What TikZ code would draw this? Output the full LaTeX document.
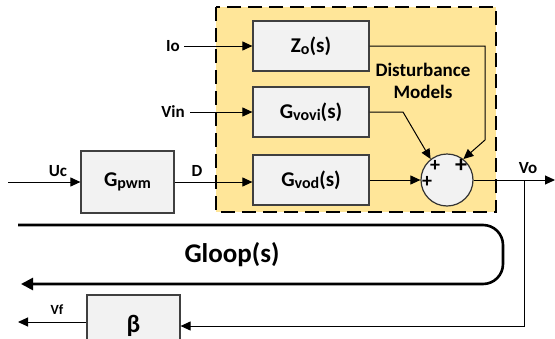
\documentclass[tikz,border=0pt]{standalone}
\usepackage{fontspec}
\setmainfont{Carlito}
\usetikzlibrary{arrows.meta}

\definecolor{boxgray}{RGB}{242,242,242}
\definecolor{distyellow}{RGB}{255,230,153}
\newcommand{\lowsub}[1]{\raisebox{-2pt}{\fontsize{16}{16}\selectfont #1}}

\begin{document}
\begin{tikzpicture}[x=1pt,y=-1pt,font=\bfseries,line width=1pt,
    blk/.style={draw=black!75,fill=boxgray,line width=1.2pt,minimum width=116pt,minimum height=50pt,font=\bfseries\fontsize{21}{21}\selectfont},
    sig/.style={line width=1pt,-{Triangle[length=10pt,width=9pt]}},
    lbl/.style={font=\bfseries\fontsize{17}{17}\selectfont},
    sign/.style={font=\bfseries\fontsize{20}{20}\selectfont,inner sep=0pt}]
                \useasboundingbox (0,0) rectangle (555,338);
                % disturbance area
                \draw[fill=distyellow,line width=2.6pt,dash pattern=on 14pt off 7pt] (216,7) rectangle (496,212);
                \node[align=center,font=\bfseries\fontsize{19}{22}\selectfont] (dist) at (423,81) {Disturbance\\Models};
                % blocks
                \node[blk] (zo) at (311,46) {Z\lowsub{o}(s)};
                \node[blk] (gvovi) at (311,112) {G\lowsub{vovi}(s)};
                \node[blk] (gvod) at (311,180) {G\lowsub{vod}(s)};
                \node[blk,minimum width=93pt,minimum height=62pt] (gpwm) at (127.5,182) {G\lowsub{pwm}};
                \node[blk,minimum width=93pt,minimum height=62pt,font=\bfseries\fontsize{25}{25}\selectfont] (beta) at (133.5,326) {β};
                \node[draw=black!80,fill=boxgray,circle,line width=1.2pt,minimum size=52pt,inner sep=0pt] (sum) at (447,180) {};
                % signs
                \node[sign] (p1) at (435,166) {+};
                \node[sign] (p2) at (427,182) {+};
                \node[sign,font=\bfseries\fontsize{24}{24}\selectfont] (p3) at (461,166) {+};
                % inputs
                \coordinate (ioin) at (184,46);
                \coordinate (vinin) at (190,112);
                \coordinate (ucin) at (8,182);
                \node[lbl] (io) at (173,46) {Io};
                \node[lbl] (vin) at (173,112) {Vin};
                \node[lbl] (uc) at (58,171) {Uc};
                \node[lbl] (d) at (197,171) {D};
                \draw[sig] (ioin) -- (zo.west);
                \draw[sig] (vinin) -- (vinin -| gvovi.west);
                \draw[sig] (ucin) -- (gpwm.west);
                \draw[sig] (gpwm.east) -- (gpwm.east -| gvod.west);
                \draw[sig] (gvod.east) -- (gvod.east -| sum.west);
                \draw[sig] (gvovi.east) -- (403,112) -- (sum.128);
                \draw[sig] (zo.east) -- (485,46) -- (485,140) -- (sum.52);
                % output and feedback
                \coordinate (voout) at (555,180);
                \coordinate (tap) at (524,180);
                \coordinate (vfout) at (18,322);
                \node[lbl] (vo) at (528,168) {Vo};
                \node[lbl,font=\bfseries\fontsize{14}{14}\selectfont] (vf) at (57,310) {Vf};
                \draw[sig] (sum.east) -- (voout);
                \draw[sig] (tap) -- (tap |- beta.east) -- (beta.east);
                \draw[sig] (beta.west |- vfout) -- (vfout);
                % loop gain
                \draw[line width=2.6pt,rounded corners=20pt,-{Triangle[length=12pt,width=12pt]}] (18,225) -- (503,225) -- (503,284) -- (21,284);
                \node[font=\bfseries\fontsize{27}{27}\selectfont] (gloop) at (232,255) {Gloop(s)};
            \end{tikzpicture}
\end{document}
